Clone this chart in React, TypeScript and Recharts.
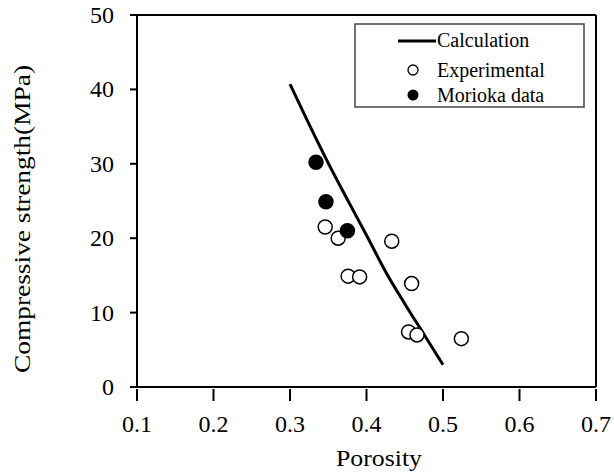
import {
  ComposedChart,
  Line,
  Scatter,
  XAxis,
  YAxis,
  ReferenceLine,
} from "recharts";

// calculated curve (porosity -> strength)
const calcPorosity = [0.3, 0.325, 0.35, 0.375, 0.4, 0.425, 0.45, 0.475, 0.5];
const calcStrength = [40.7, 35.3, 30.1, 25.2, 20.4, 15.5, 11.2, 7.1, 3.0];

// experimental points
const expPorosity = [0.346, 0.363, 0.433, 0.376, 0.391, 0.459, 0.455, 0.466, 0.524];
const expStrength = [21.5, 20.0, 19.6, 14.9, 14.8, 13.9, 7.4, 7.0, 6.5];

// Morioka data
const morPorosity = [0.334, 0.347, 0.375];
const morStrength = [30.2, 24.9, 21.0];

const xTicks = [0.1, 0.2, 0.3, 0.4, 0.5, 0.6, 0.7];
const yTicks = [0, 10, 20, 30, 40, 50];

const calcData = calcPorosity.map((p, i) => ({ p, s: calcStrength[i] }));
const expData = expPorosity.map((p, i) => ({ p, s: expStrength[i] }));
const morData = morPorosity.map((p, i) => ({ p, s: morStrength[i] }));

const FONT = "Liberation Serif, Times New Roman, serif";
const serif = { fontFamily: FONT };

const XTick = (props: any) => {
  const { x, y, payload } = props;
  return (
    <g>
      <line x1={x} x2={x} y1={y - 6} y2={y + 6} stroke="#000" strokeWidth={2} />
      <text x={x} y={y + 37} textAnchor="middle" fontSize={24} style={serif} fill="#000">
        {payload.value.toFixed(1)}
      </text>
    </g>
  );
};

const YTick = (props: any) => {
  const { x, y, payload } = props;
  return (
    <text x={x - 14} y={y + 8} textAnchor="end" fontSize={24} style={serif} fill="#000">
      {payload.value}
    </text>
  );
};

const OpenDot = (props: any) => (
  <circle cx={props.cx} cy={props.cy} r={7} fill="#fff" stroke="#000" strokeWidth={1.5} />
);
const FilledDot = (props: any) => (
  <circle cx={props.cx} cy={props.cy} r={7} fill="#000" stroke="#000" strokeWidth={1.5} />
);

const LegendBox = () => (
  <g fontSize={20} fill="#000" style={serif}>
    <rect x={355} y={24} width={229} height={83} fill="#fff" stroke="#444" strokeWidth={1.5} />
    <line x1={398} x2={436} y1={41} y2={41} stroke="#000" strokeWidth={3} />
    <text x={437} y={47}>Calculation</text>
    <circle cx={413} cy={70} r={5} fill="#fff" stroke="#000" strokeWidth={1.3} />
    <text x={437} y={77}>Experimental</text>
    <circle cx={413} cy={95} r={5.5} fill="#000" />
    <text x={437} y={102}>Morioka data</text>
  </g>
);

const YLabel = () => (
  <text
    x={22}
    y={219}
    transform="rotate(-90 22 219)"
    textAnchor="middle"
    dominantBaseline="central"
    fontSize={24}
    textLength={308}
    lengthAdjust="spacingAndGlyphs"
    style={serif}
    fill="#000"
  >
    Compressive strength(MPa)
  </text>
);

const XLabel = () => (
  <text
    x={379}
    y={466}
    textAnchor="middle"
    fontSize={24}
    textLength={86}
    lengthAdjust="spacingAndGlyphs"
    style={serif}
    fill="#000"
  >
    Porosity
  </text>
);

export default function App() {
  return (
    <div style={{ position: "absolute", left: 0, top: 0, background: "#fff" }}>
      <ComposedChart
        width={614}
        height={475}
        margin={{ top: 15, right: 18, left: 0, bottom: 0 }}
      >
        <XAxis
          dataKey="p"
          type="number"
          domain={[0.1, 0.7]}
          ticks={xTicks}
          allowDataOverflow
          axisLine={{ stroke: "#000", strokeWidth: 2 }}
          tickLine={false}
          tick={<XTick />}
          height={88}
          label={<XLabel />}
        />
        <YAxis
          dataKey="s"
          type="number"
          domain={[0, 50]}
          ticks={yTicks}
          width={137}
          axisLine={{ stroke: "#000", strokeWidth: 2 }}
          tickLine={{ stroke: "#000", strokeWidth: 2 }}
          tickSize={7}
          tick={<YTick />}
          label={<YLabel />}
        />
        <ReferenceLine y={50} stroke="#000" strokeWidth={2} />
        <ReferenceLine x={0.7} stroke="#000" strokeWidth={2} />
        <Line
          data={calcData}
          dataKey="s"
          type="monotone"
          stroke="#000"
          strokeWidth={3}
          dot={false}
          isAnimationActive={false}
        />
        <Scatter data={expData} dataKey="s" shape={<OpenDot />} isAnimationActive={false} />
        <Scatter data={morData} dataKey="s" shape={<FilledDot />} isAnimationActive={false} />
        <LegendBox />
      </ComposedChart>
    </div>
  );
}
